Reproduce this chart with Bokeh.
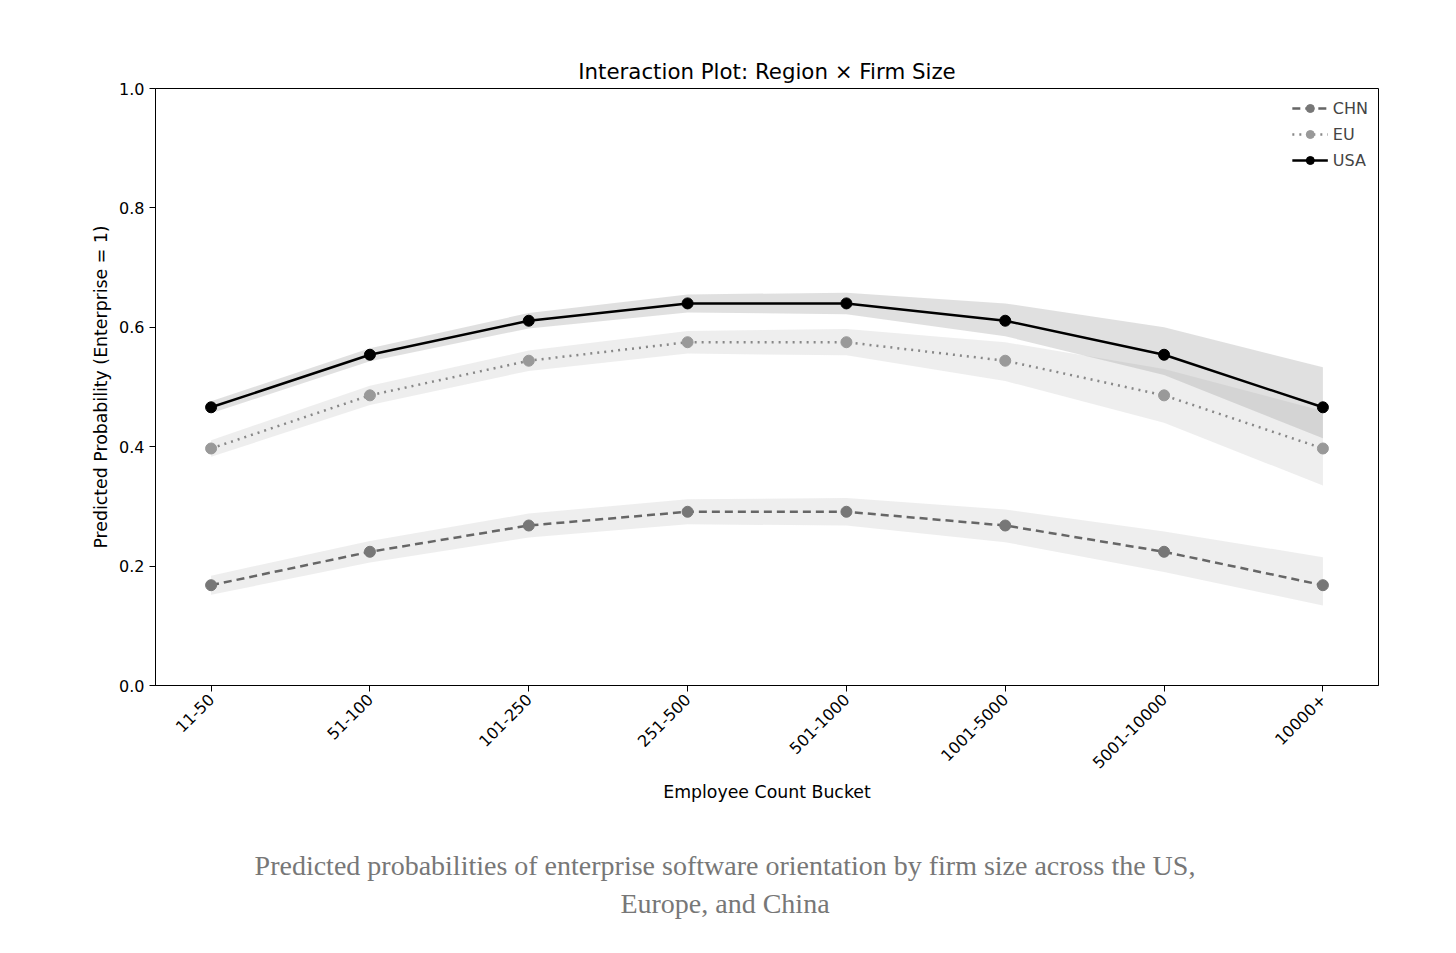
import math
from bokeh.plotting import figure
from bokeh.layouts import column
from bokeh.models import Div, Range1d, FixedTicker, Legend, LegendItem
from bokeh.embed import file_html
from bokeh.resources import INLINE

buckets = ["11-50", "51-100", "101-250", "251-500", "501-1000", "1001-5000", "5001-10000", "10000+"]
usa = [0.466, 0.554, 0.611, 0.640, 0.640, 0.611, 0.554, 0.466]
usa_lo = [0.456, 0.543, 0.598, 0.625, 0.622, 0.585, 0.520, 0.414]
usa_hi = [0.476, 0.565, 0.624, 0.655, 0.658, 0.640, 0.600, 0.533]
eu = [0.397, 0.486, 0.544, 0.575, 0.575, 0.544, 0.486, 0.397]
eu_lo = [0.383, 0.470, 0.527, 0.556, 0.553, 0.510, 0.440, 0.335]
eu_hi = [0.411, 0.502, 0.561, 0.594, 0.597, 0.575, 0.530, 0.460]
chn = [0.168, 0.224, 0.268, 0.291, 0.291, 0.268, 0.224, 0.168]
chn_lo = [0.152, 0.206, 0.248, 0.270, 0.268, 0.240, 0.190, 0.134]
chn_hi = [0.184, 0.242, 0.288, 0.312, 0.314, 0.295, 0.258, 0.215]

x = list(range(len(buckets)))
p = figure(width=1440, height=830, output_backend="svg", toolbar_location=None,
           min_border_left=155, min_border_right=62, min_border_top=88, min_border_bottom=145,
           title="Interaction Plot: Region × Firm Size")
p.title.align = "center"
p.title.text_font = "DejaVu Sans"
p.title.text_font_size = "16pt"
p.title.text_font_style = "normal"
p.title.text_color = "black"
p.x_range = Range1d(-0.35, 7.35)
p.y_range = Range1d(0, 1)
p.xgrid.visible = False
p.ygrid.visible = False
p.outline_line_color = "black"
p.xaxis.ticker = FixedTicker(ticks=x)
p.xaxis.major_label_overrides = {i: b for i, b in enumerate(buckets)}
p.xaxis.major_label_orientation = math.pi / 4
p.yaxis.ticker = FixedTicker(ticks=[0, 0.2, 0.4, 0.6, 0.8, 1.0])
p.yaxis.major_label_overrides = {0: "0.0", 0.2: "0.2", 0.4: "0.4", 0.6: "0.6", 0.8: "0.8", 1.0: "1.0"}
p.xaxis.axis_label = "Employee Count Bucket"
p.yaxis.axis_label = "Predicted Probability (Enterprise = 1)"
for ax in (p.xaxis, p.yaxis):
    ax.axis_label_text_font = "DejaVu Sans"
    ax.axis_label_text_font_style = "normal"
    ax.axis_label_text_font_size = "13pt"
    ax.axis_label_text_color = "black"
    ax.major_label_text_font = "DejaVu Sans"
    ax.major_label_text_font_size = "12pt"
    ax.major_label_text_color = "black"
    ax.axis_line_color = "black"
    ax.major_tick_line_color = "black"
    ax.minor_tick_line_color = None
    ax.major_tick_out = 6
    ax.major_tick_in = 0

p.varea(x=x, y1=chn_lo, y2=chn_hi, fill_color="#bbbbbb", fill_alpha=0.25)
p.varea(x=x, y1=eu_lo, y2=eu_hi, fill_color="#bbbbbb", fill_alpha=0.25)
p.varea(x=x, y1=usa_lo, y2=usa_hi, fill_color="#999999", fill_alpha=0.3)

l1 = p.line(x, chn, line_color="#666666", line_width=2.5, line_dash="8 5")
c1 = p.scatter(x, chn, size=11, fill_color="#777777", line_color="#777777")
l2 = p.line(x, eu, line_color="#888888", line_width=2.5, line_dash="2 5")
c2 = p.scatter(x, eu, size=11, fill_color="#999999", line_color="#999999")
l3 = p.line(x, usa, line_color="black", line_width=2.5)
c3 = p.scatter(x, usa, size=11, fill_color="black", line_color="black")

leg = Legend(items=[LegendItem(label="CHN", renderers=[l1, c1]),
                    LegendItem(label="EU", renderers=[l2, c2]),
                    LegendItem(label="USA", renderers=[l3, c3])],
             location="top_right", border_line_color=None, background_fill_alpha=0,
             label_text_font="DejaVu Sans", label_text_font_size="12pt",
             glyph_width=36, spacing=6)
p.add_layout(leg)

cap = Div(text="Predicted probabilities of enterprise software orientation by firm size across the US,<br>Europe, and China",
          width=1440, styles={"text-align": "center", "font-family": "Liberation Serif, serif",
                              "font-size": "28px", "color": "#777777", "line-height": "38px"})
layout = column(p, cap, spacing=12)
open("out.html", "w").write(file_html(layout, INLINE))
